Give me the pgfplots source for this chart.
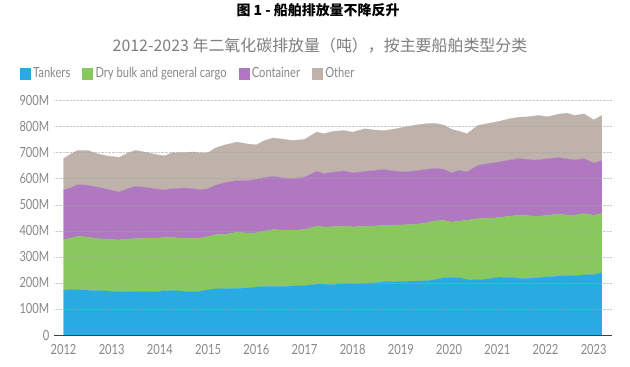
\documentclass[border=0pt]{standalone}
\usepackage{fontspec}
\setmainfont{Lato}[FakeStretch=0.8]
\newfontfamily\cjk{Noto Sans CJK SC}
\usepackage{pgfplots}
\pgfplotsset{compat=1.18}
\usepackage{pgfplotstable}
\definecolor{ctank}{RGB}{41,171,226}
\definecolor{cdry}{RGB}{136,200,94}
\definecolor{ccont}{RGB}{176,120,192}
\definecolor{cother}{RGB}{190,178,170}
\definecolor{tickgray}{RGB}{135,135,135}
\definecolor{subgray}{RGB}{125,125,125}

% values in million tonnes CO2
\pgfplotstableread{
x       tank dry  cont other
2012.00 172  195  189  121
2012.15 174  198  193  130
2012.30 173  206  199  131
2012.50 172  204  199  134
2012.70 170  200  198  128
2012.90 169  199  192  128
2013.15 166  199  184  133
2013.35 167  202  193  138
2013.50 168  202  201  138
2013.75 168  204  194  134
2013.95 167  205  188  132
2014.10 170  205  183  130
2014.25 171  203  188  138
2014.50 168  204  192  137
2014.70 166  205  191  141
2014.85 168  204  185  142
2015.00 174  204  184  138
2015.15 177  208  190  143
2015.35 178  209  198  145
2015.60 179  215  199  148
2015.80 180  212  200  142
2016.00 184  208  206  132
2016.15 186  212  206  141
2016.35 187  218  204  148
2016.55 186  217  201  148
2016.75 188  214  198  147
2017.00 190  215  201  145
2017.25 195  223  210  151
2017.40 195  220  205  153
2017.60 194  222  209  157
2017.82 198  220  212  155
2018.00 198  217  207  157
2018.25 199  219  210  164
2018.45 200  219  213  155
2018.65 204  217  214  150
2018.85 205  217  208  160
2019.06 206  217  203  172
2019.30 207  218  205  176
2019.50 208  222  205  176
2019.70 212  226  202  173
2019.89 220  220  196  170
2020.05 221  213  188  168
2020.20 220  217  195  151
2020.37 213  228  185  147
2020.60 212  235  204  154
2020.80 215  233  210  154
2021.03 222  229  213  156
2021.25 221  235  216  158
2021.44 218  242  217  159
2021.65 217  241  216  164
2021.86 220  236  217  170
2022.05 224  236  217  161
2022.27 226  238  217  167
2022.45 227  234  215  176
2022.60 228  232  213  170
2022.80 231  235  211  172
2023.00 232  228  200  166
2023.17 239  227  204  173
}\data

\begin{document}
\begin{tikzpicture}[x=1bp,y=1bp]
\begin{axis}[
  at={(0,0)}, anchor=south west,
  scale only axis, width=557.5bp, height=234.4bp,
  xmin=2011.813, xmax=2023.38, ymin=0, ymax=900,
  stack plots=y,
  axis on top,
  axis x line*=bottom, axis y line*=left,
  y axis line style={draw=none},
  x axis line style={draw=black!75, line width=0.9pt},
  xtick={2012,2013,2014,2015,2016,2017,2018,2019,2020,2021,2022,2023},
  xticklabels={2012,2013,2014,2015,2016,2017,2018,2019,2020,2021,2022,2023},
  ytick={0,100,200,300,400,500,600,700,800,900},
  yticklabels={0,100M,200M,300M,400M,500M,600M,700M,800M,900M},
  major tick length=0pt,
  ymajorgrids,
  grid style={densely dotted, black!35, line width=0.5pt, opacity=0.6},
  /pgf/number format/assume math mode=true,
  tick label style={font=\fontsize{14}{16}\selectfont, text=tickgray, inner sep=0pt},
  xticklabel style={anchor=north, yshift=-9bp},
  yticklabel style={anchor=east, xshift=-5bp},
  legend columns=4,
  legend image code/.code={\fill[#1] (0bp,-5.5bp) rectangle (10bp,5.5bp);},
  legend style={at={(-0.062,1.1156)}, anchor=west, draw=none, fill=none,
    inner sep=0pt, outer sep=0pt,
    font=\fontsize{14}{16}\selectfont, text=tickgray,
    nodes={inner sep=0bp},
    /tikz/every odd column/.append style={column sep=3bp},
    /tikz/every even column/.append style={column sep=12bp}},
]
\addplot[fill=ctank, draw=ctank, line width=0.2pt] table[x=x, y=tank] {\data} \closedcycle;
\addlegendentry{Tankers}
\addplot[fill=cdry, draw=cdry, line width=0.2pt] table[x=x, y=dry] {\data} \closedcycle;
\addlegendentry{Dry bulk and general cargo}
\addplot[fill=ccont, draw=ccont, line width=0.2pt] table[x=x, y=cont] {\data} \closedcycle;
\addlegendentry{Container}
\addplot[fill=cother, draw=cother, line width=0.2pt] table[x=x, y=other] {\data} \closedcycle;
\addlegendentry{Other}
\end{axis}
\node[font={\cjk\bfseries\fontsize{14}{16}\selectfont}, text=black] at (263.5,325) {图 1 - 船舶排放量不降反升};
\node[font={\cjk\fontsize{16}{18}\selectfont}, text=subgray] at (265.5,289) {2012-2023 年二氧化碳排放量（吨），按主要船舶类型分类};
\pgfresetboundingbox
\path[use as bounding box] (-54.5,-31) rectangle (575.5,335);
\end{tikzpicture}
\end{document}
